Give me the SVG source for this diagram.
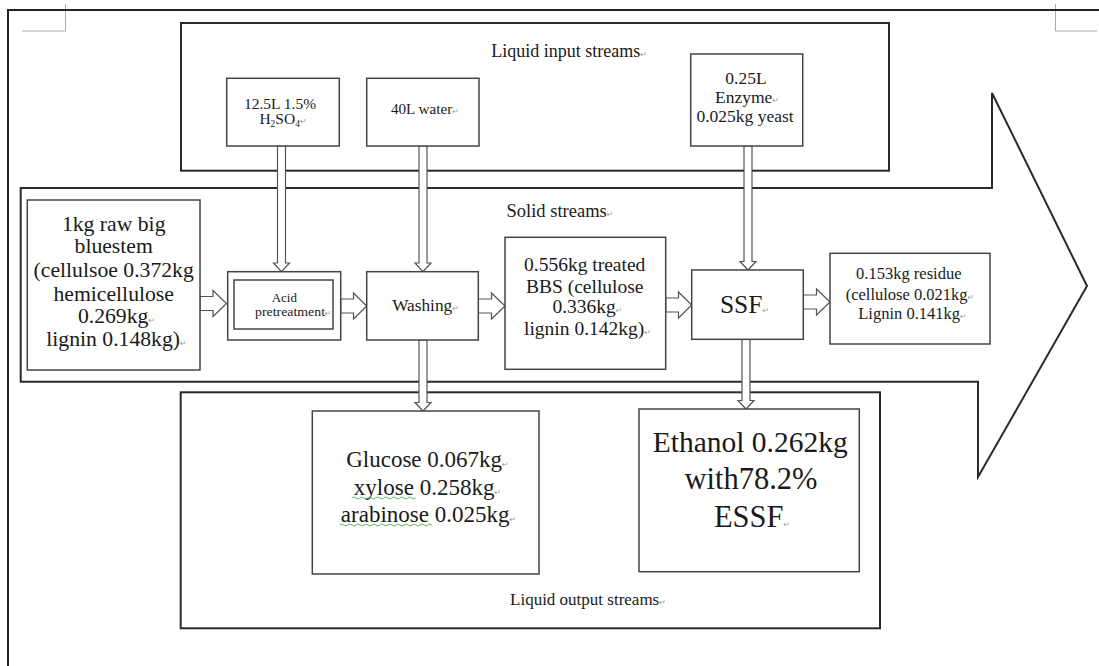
<svg xmlns="http://www.w3.org/2000/svg" width="1099" height="666" viewBox="0 0 1099 666">
<style>
text{font-family:"Liberation Serif","Times New Roman",serif;fill:#1a1a1a;text-anchor:middle}
.pm{fill:#9a9a9a;font-family:"DejaVu Sans",sans-serif;font-size:8px}
.frame{fill:none;stroke:#222;stroke-width:2}
.cont{fill:none;stroke:#2a2a2a;stroke-width:2}
.box{fill:#fff;stroke:#444;stroke-width:1.5}
.harr{fill:#fff;stroke:#555;stroke-width:1.2}
.varr{fill:#fff;stroke:#555;stroke-width:1.2}
.mark{fill:none;stroke:#aaa;stroke-width:1}
.sq{fill:none;stroke:#4caf50;stroke-width:0.9}
</style>
<rect width="1099" height="666" fill="#fff"/>
<g id="page">
<path class="mark" d="M22,31 H65.5 V4"/>
<path class="mark" d="M1055.5,4 V31 H1097"/>
<path class="frame" d="M8,666 V10 H1099"/>
</g>
<g id="liquid-input">
<rect class="cont" x="181" y="23" width="708" height="147.7"/>
<text x="569" y="57" font-size="18">Liquid input streams<tspan class="pm">↵</tspan></text>
</g>
<g id="solid-streams">
<path class="cont" d="M20.7,188 H992 V93 L1087,286 L978,477 V381.7 H20.7 Z"/>
<text x="560" y="217" font-size="18.5">Solid streams<tspan class="pm">↵</tspan></text>
</g>
<g id="liquid-output">
<rect class="cont" x="180.7" y="392.3" width="699.3" height="236"/>
<text x="588" y="605" font-size="17">Liquid output streams<tspan class="pm">↵</tspan></text>
</g>
<g id="connectors">
<path class="harr" d="M200,296.5 H213 V290.5 L226.5,303.5 L213,316.5 V310.5 H200 Z"/>
<path class="harr" d="M340.7,299 H353.5 V293 L366.7,306 L353.5,319 V313 H340.7 Z"/>
<path class="harr" d="M478.3,299 H491.5 V293 L505,306 L491.5,319 V313 H478.3 Z"/>
<path class="harr" d="M665.7,298 H678.5 V292 L691.7,305 L678.5,318 V312 H665.7 Z"/>
<path class="harr" d="M803.3,295 H816.5 V289 L830,302 L816.5,315 V309 H803.3 Z"/>
<path class="varr" d="M277.5,146 V263 H273.5 L281.5,271.7 L289.5,263 H285.5 V146 Z"/>
<path class="varr" d="M419,146 V263 H415 L423,271.7 L431,263 H427 V146 Z"/>
<path class="varr" d="M744,146 V261.5 H740 L748,270 L756,261.5 H752 V146 Z"/>
<path class="varr" d="M419,340 V402.5 H415 L423,411 L431,402.5 H427 V340 Z"/>
<path class="varr" d="M742,339.3 V400.5 H738 L746,409 L754,400.5 H750 V339.3 Z"/>
</g>
<g id="n-h2so4">
<rect class="box" x="226.7" y="78.3" width="112.6" height="67.7"/>
<text x="280" y="108.5" font-size="15.5">12.5L 1.5%</text>
<text x="283" y="124" font-size="15.5">H<tspan font-size="9.5" dy="3">2</tspan><tspan dy="-3">SO</tspan><tspan font-size="9.5" dy="3">4</tspan><tspan class="pm" dy="-3">↵</tspan></text>
</g>
<g id="n-water">
<rect class="box" x="366.7" y="78.3" width="112.3" height="67.7"/>
<text x="425" y="114" font-size="15.2">40L water<tspan class="pm">↵</tspan></text>
</g>
<g id="n-enzyme">
<rect class="box" x="690.7" y="54" width="112" height="92"/>
<text x="746" y="84" font-size="17.5">0.25L</text>
<text x="747" y="103.3" font-size="17.5">Enzyme<tspan class="pm">↵</tspan></text>
<text x="745" y="122" font-size="17.5">0.025kg yeast</text>
</g>
<g id="n-raw">
<rect class="box" x="27.3" y="200" width="172.7" height="170"/>
<text x="113.7" y="230.5" font-size="21.7">1kg raw big</text>
<text x="113.7" y="253" font-size="21.7">bluestem</text>
<text x="113.7" y="277" font-size="21.7">(cellulsoe 0.372kg</text>
<text x="113.7" y="300.5" font-size="21.7">hemicellulose</text>
<text x="116.5" y="323.3" font-size="21.7">0.269kg<tspan class="pm">↵</tspan></text>
<text x="116.5" y="345.5" font-size="21.7">lignin 0.148kg)<tspan class="pm">↵</tspan></text>
</g>
<g id="n-acid">
<rect class="box" x="227.7" y="271.7" width="113" height="68.3"/>
<rect class="box" x="234" y="280" width="99" height="49"/>
<text x="284.3" y="301.7" font-size="13">Acid</text>
<text x="290" y="316" font-size="13" textLength="70" lengthAdjust="spacingAndGlyphs">pretreatment</text><text x="328" y="316" class="pm" font-size="7">↵</text>
</g>
<g id="n-washing">
<rect class="box" x="366.7" y="271.7" width="111.6" height="68.3"/>
<text x="425.5" y="310.7" font-size="17.3">Washing<tspan class="pm">↵</tspan></text>
</g>
<g id="n-bbs">
<rect class="box" x="505" y="237.3" width="160.7" height="132"/>
<text x="584.7" y="270.7" font-size="19.5">0.556kg treated</text>
<text x="584.7" y="292.7" font-size="19.5">BBS (cellulose</text>
<text x="587.5" y="313.3" font-size="19.5">0.336kg<tspan class="pm">↵</tspan></text>
<text x="587.5" y="335" font-size="19.5">lignin 0.142kg)<tspan class="pm">↵</tspan></text>
</g>
<g id="n-ssf">
<rect class="box" x="691.7" y="270" width="111.6" height="69.3"/>
<text x="744.5" y="313.3" font-size="25.5">SSF<tspan class="pm">↵</tspan></text>
</g>
<g id="n-residue">
<rect class="box" x="830" y="253.3" width="160" height="90.7"/>
<text x="908.8" y="279" font-size="16.5">0.153kg residue</text>
<text x="910" y="300" font-size="16.5">(cellulose 0.021kg<tspan class="pm">↵</tspan></text>
<text x="912.5" y="319.3" font-size="16.5">Lignin 0.141kg<tspan class="pm">↵</tspan></text>
</g>
<g id="n-sugars">
<rect class="box" x="312.3" y="411" width="226.7" height="163"/>
<text x="427.5" y="467.3" font-size="23">Glucose 0.067kg<tspan class="pm">↵</tspan></text>
<text x="427.5" y="495" font-size="23">xylose 0.258kg<tspan class="pm">↵</tspan></text>
<text x="428.5" y="521.7" font-size="23">arabinose 0.025kg<tspan class="pm">↵</tspan></text>
<path class="sq" d="M351.7,498 q2,-2 4,0 t4,0 t4,0 t4,0 t4,0 t4,0 t4,0 t4,0 t4,0 t4,0 t4,0 t4,0 t4,0 t4,0 t4,0 t4,0"/>
<path class="sq" d="M340,525 q2,-2 4,0 t4,0 t4,0 t4,0 t4,0 t4,0 t4,0 t4,0 t4,0 t4,0 t4,0 t4,0 t4,0 t4,0 t4,0 t4,0 t4,0 t4,0 t4,0 t4,0 t4,0 t4,0 t4,0"/>
</g>
<g id="n-ethanol">
<rect class="box" x="639" y="409" width="220.3" height="162.7"/>
<text x="750.2" y="451.7" font-size="29.5">Ethanol 0.262kg</text>
<text x="751" y="489.3" font-size="30.5">with78.2%</text>
<text x="752" y="526.7" font-size="30.5">ESSF<tspan class="pm">↵</tspan></text>
</g>
</svg>
